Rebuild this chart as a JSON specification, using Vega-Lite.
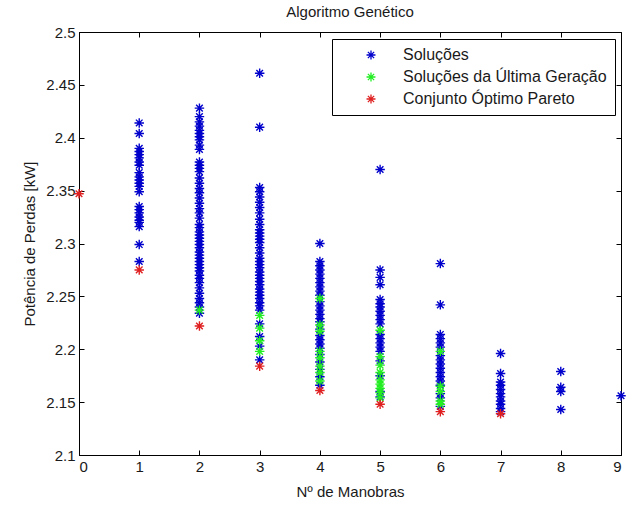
{
  "$schema": "https://vega.github.io/schema/vega-lite/v6.json",
  "width": 542,
  "height": 423,
  "autosize": "none",
  "padding": {"left": 79, "top": 32, "right": 19, "bottom": 51},
  "background": "white",
  "title": {"text": "Algoritmo Genético", "font": "Liberation Sans", "fontSize": 15, "fontWeight": "normal", "color": "#1a1a1a", "offset": 5},
  "config": {
    "view": {"stroke": "black", "strokeWidth": 1},
    "axis": {"grid": false, "domainColor": "black", "tickColor": "black", "tickSize": -5, "labelFont": "Liberation Sans", "labelFontSize": 15, "labelColor": "#1a1a1a", "titleFont": "Liberation Sans", "titleFontSize": 15, "titleFontWeight": "normal", "titleColor": "#1a1a1a"},
    "legend": {"orient": "none", "legendX": 253, "legendY": 7, "strokeColor": "black", "fillColor": "white", "padding": 8, "labelFont": "Liberation Sans", "labelFontSize": 16, "labelColor": "#1a1a1a", "symbolOffset": 23, "labelOffset": 24, "rowPadding": 6, "labelLimit": 400}
  },
  "data": {"values": [
    {"x":1,"y":2.414,"s":"Soluções"},{"x":1,"y":2.404,"s":"Soluções"},{"x":1,"y":2.390,"s":"Soluções"},{"x":1,"y":2.387,"s":"Soluções"},{"x":1,"y":2.384,"s":"Soluções"},{"x":1,"y":2.381,"s":"Soluções"},{"x":1,"y":2.377,"s":"Soluções"},{"x":1,"y":2.374,"s":"Soluções"},{"x":1,"y":2.367,"s":"Soluções"},{"x":1,"y":2.363,"s":"Soluções"},{"x":1,"y":2.360,"s":"Soluções"},{"x":1,"y":2.357,"s":"Soluções"},{"x":1,"y":2.354,"s":"Soluções"},{"x":1,"y":2.349,"s":"Soluções"},{"x":1,"y":2.335,"s":"Soluções"},{"x":1,"y":2.332,"s":"Soluções"},{"x":1,"y":2.329,"s":"Soluções"},{"x":1,"y":2.325,"s":"Soluções"},{"x":1,"y":2.322,"s":"Soluções"},{"x":1,"y":2.320,"s":"Soluções"},{"x":1,"y":2.316,"s":"Soluções"},{"x":1,"y":2.299,"s":"Soluções"},{"x":1,"y":2.283,"s":"Soluções"},
    {"x":2,"y":2.428,"s":"Soluções"},{"x":2,"y":2.420,"s":"Soluções"},{"x":2,"y":2.415,"s":"Soluções"},{"x":2,"y":2.411,"s":"Soluções"},{"x":2,"y":2.407,"s":"Soluções"},{"x":2,"y":2.404,"s":"Soluções"},{"x":2,"y":2.401,"s":"Soluções"},{"x":2,"y":2.398,"s":"Soluções"},{"x":2,"y":2.393,"s":"Soluções"},{"x":2,"y":2.389,"s":"Soluções"},{"x":2,"y":2.377,"s":"Soluções"},{"x":2,"y":2.374,"s":"Soluções"},{"x":2,"y":2.371,"s":"Soluções"},{"x":2,"y":2.368,"s":"Soluções"},{"x":2,"y":2.362,"s":"Soluções"},{"x":2,"y":2.357,"s":"Soluções"},{"x":2,"y":2.352,"s":"Soluções"},{"x":2,"y":2.348,"s":"Soluções"},{"x":2,"y":2.343,"s":"Soluções"},{"x":2,"y":2.338,"s":"Soluções"},{"x":2,"y":2.333,"s":"Soluções"},{"x":2,"y":2.329,"s":"Soluções"},{"x":2,"y":2.324,"s":"Soluções"},{"x":2,"y":2.318,"s":"Soluções"},{"x":2,"y":2.315,"s":"Soluções"},{"x":2,"y":2.311,"s":"Soluções"},{"x":2,"y":2.308,"s":"Soluções"},{"x":2,"y":2.305,"s":"Soluções"},{"x":2,"y":2.302,"s":"Soluções"},{"x":2,"y":2.299,"s":"Soluções"},{"x":2,"y":2.296,"s":"Soluções"},{"x":2,"y":2.292,"s":"Soluções"},{"x":2,"y":2.289,"s":"Soluções"},{"x":2,"y":2.286,"s":"Soluções"},{"x":2,"y":2.283,"s":"Soluções"},{"x":2,"y":2.280,"s":"Soluções"},{"x":2,"y":2.277,"s":"Soluções"},{"x":2,"y":2.274,"s":"Soluções"},{"x":2,"y":2.270,"s":"Soluções"},{"x":2,"y":2.267,"s":"Soluções"},{"x":2,"y":2.263,"s":"Soluções"},{"x":2,"y":2.258,"s":"Soluções"},{"x":2,"y":2.253,"s":"Soluções"},{"x":2,"y":2.248,"s":"Soluções"},{"x":2,"y":2.244,"s":"Soluções"},{"x":2,"y":2.240,"s":"Soluções"},{"x":2,"y":2.234,"s":"Soluções"},
    {"x":3,"y":2.461,"s":"Soluções"},{"x":3,"y":2.410,"s":"Soluções"},{"x":3,"y":2.353,"s":"Soluções"},{"x":3,"y":2.349,"s":"Soluções"},{"x":3,"y":2.344,"s":"Soluções"},{"x":3,"y":2.339,"s":"Soluções"},{"x":3,"y":2.334,"s":"Soluções"},{"x":3,"y":2.329,"s":"Soluções"},{"x":3,"y":2.323,"s":"Soluções"},{"x":3,"y":2.318,"s":"Soluções"},{"x":3,"y":2.313,"s":"Soluções"},{"x":3,"y":2.310,"s":"Soluções"},{"x":3,"y":2.307,"s":"Soluções"},{"x":3,"y":2.304,"s":"Soluções"},{"x":3,"y":2.301,"s":"Soluções"},{"x":3,"y":2.296,"s":"Soluções"},{"x":3,"y":2.291,"s":"Soluções"},{"x":3,"y":2.286,"s":"Soluções"},{"x":3,"y":2.283,"s":"Soluções"},{"x":3,"y":2.280,"s":"Soluções"},{"x":3,"y":2.277,"s":"Soluções"},{"x":3,"y":2.273,"s":"Soluções"},{"x":3,"y":2.270,"s":"Soluções"},{"x":3,"y":2.267,"s":"Soluções"},{"x":3,"y":2.264,"s":"Soluções"},{"x":3,"y":2.261,"s":"Soluções"},{"x":3,"y":2.257,"s":"Soluções"},{"x":3,"y":2.254,"s":"Soluções"},{"x":3,"y":2.251,"s":"Soluções"},{"x":3,"y":2.248,"s":"Soluções"},{"x":3,"y":2.244,"s":"Soluções"},{"x":3,"y":2.241,"s":"Soluções"},{"x":3,"y":2.237,"s":"Soluções"},{"x":3,"y":2.224,"s":"Soluções"},{"x":3,"y":2.212,"s":"Soluções"},{"x":3,"y":2.203,"s":"Soluções"},{"x":3,"y":2.190,"s":"Soluções"},
    {"x":4,"y":2.300,"s":"Soluções"},{"x":4,"y":2.283,"s":"Soluções"},{"x":4,"y":2.279,"s":"Soluções"},{"x":4,"y":2.275,"s":"Soluções"},{"x":4,"y":2.271,"s":"Soluções"},{"x":4,"y":2.267,"s":"Soluções"},{"x":4,"y":2.263,"s":"Soluções"},{"x":4,"y":2.259,"s":"Soluções"},{"x":4,"y":2.255,"s":"Soluções"},{"x":4,"y":2.251,"s":"Soluções"},{"x":4,"y":2.245,"s":"Soluções"},{"x":4,"y":2.241,"s":"Soluções"},{"x":4,"y":2.237,"s":"Soluções"},{"x":4,"y":2.233,"s":"Soluções"},{"x":4,"y":2.229,"s":"Soluções"},{"x":4,"y":2.226,"s":"Soluções"},{"x":4,"y":2.219,"s":"Soluções"},{"x":4,"y":2.213,"s":"Soluções"},{"x":4,"y":2.209,"s":"Soluções"},{"x":4,"y":2.205,"s":"Soluções"},{"x":4,"y":2.201,"s":"Soluções"},{"x":4,"y":2.195,"s":"Soluções"},{"x":4,"y":2.188,"s":"Soluções"},{"x":4,"y":2.181,"s":"Soluções"},{"x":4,"y":2.174,"s":"Soluções"},{"x":4,"y":2.166,"s":"Soluções"},
    {"x":5,"y":2.370,"s":"Soluções"},{"x":5,"y":2.275,"s":"Soluções"},{"x":5,"y":2.268,"s":"Soluções"},{"x":5,"y":2.261,"s":"Soluções"},{"x":5,"y":2.247,"s":"Soluções"},{"x":5,"y":2.243,"s":"Soluções"},{"x":5,"y":2.240,"s":"Soluções"},{"x":5,"y":2.236,"s":"Soluções"},{"x":5,"y":2.232,"s":"Soluções"},{"x":5,"y":2.228,"s":"Soluções"},{"x":5,"y":2.224,"s":"Soluções"},{"x":5,"y":2.214,"s":"Soluções"},{"x":5,"y":2.210,"s":"Soluções"},{"x":5,"y":2.206,"s":"Soluções"},{"x":5,"y":2.202,"s":"Soluções"},{"x":5,"y":2.198,"s":"Soluções"},{"x":5,"y":2.189,"s":"Soluções"},{"x":5,"y":2.175,"s":"Soluções"},{"x":5,"y":2.160,"s":"Soluções"},{"x":5,"y":2.155,"s":"Soluções"},
    {"x":6,"y":2.281,"s":"Soluções"},{"x":6,"y":2.242,"s":"Soluções"},{"x":6,"y":2.214,"s":"Soluções"},{"x":6,"y":2.210,"s":"Soluções"},{"x":6,"y":2.206,"s":"Soluções"},{"x":6,"y":2.202,"s":"Soluções"},{"x":6,"y":2.194,"s":"Soluções"},{"x":6,"y":2.190,"s":"Soluções"},{"x":6,"y":2.186,"s":"Soluções"},{"x":6,"y":2.182,"s":"Soluções"},{"x":6,"y":2.178,"s":"Soluções"},{"x":6,"y":2.174,"s":"Soluções"},{"x":6,"y":2.170,"s":"Soluções"},{"x":6,"y":2.166,"s":"Soluções"},{"x":6,"y":2.158,"s":"Soluções"},{"x":6,"y":2.154,"s":"Soluções"},{"x":6,"y":2.146,"s":"Soluções"},
    {"x":7,"y":2.196,"s":"Soluções"},{"x":7,"y":2.177,"s":"Soluções"},{"x":7,"y":2.169,"s":"Soluções"},{"x":7,"y":2.166,"s":"Soluções"},{"x":7,"y":2.162,"s":"Soluções"},{"x":7,"y":2.158,"s":"Soluções"},{"x":7,"y":2.155,"s":"Soluções"},{"x":7,"y":2.151,"s":"Soluções"},{"x":7,"y":2.148,"s":"Soluções"},{"x":7,"y":2.144,"s":"Soluções"},{"x":7,"y":2.141,"s":"Soluções"},
    {"x":8,"y":2.179,"s":"Soluções"},{"x":8,"y":2.164,"s":"Soluções"},{"x":8,"y":2.160,"s":"Soluções"},{"x":8,"y":2.143,"s":"Soluções"},
    {"x":9,"y":2.156,"s":"Soluções"},
    {"x":2,"y":2.237,"s":"Soluções da Última Geração"},
    {"x":3,"y":2.232,"s":"Soluções da Última Geração"},{"x":3,"y":2.220,"s":"Soluções da Última Geração"},{"x":3,"y":2.208,"s":"Soluções da Última Geração"},{"x":3,"y":2.198,"s":"Soluções da Última Geração"},
    {"x":4,"y":2.248,"s":"Soluções da Última Geração"},{"x":4,"y":2.223,"s":"Soluções da Última Geração"},{"x":4,"y":2.217,"s":"Soluções da Última Geração"},{"x":4,"y":2.198,"s":"Soluções da Última Geração"},{"x":4,"y":2.192,"s":"Soluções da Última Geração"},{"x":4,"y":2.184,"s":"Soluções da Última Geração"},{"x":4,"y":2.178,"s":"Soluções da Última Geração"},{"x":4,"y":2.170,"s":"Soluções da Última Geração"},
    {"x":5,"y":2.218,"s":"Soluções da Última Geração"},{"x":5,"y":2.193,"s":"Soluções da Última Geração"},{"x":5,"y":2.185,"s":"Soluções da Última Geração"},{"x":5,"y":2.178,"s":"Soluções da Última Geração"},{"x":5,"y":2.171,"s":"Soluções da Última Geração"},{"x":5,"y":2.167,"s":"Soluções da Última Geração"},{"x":5,"y":2.163,"s":"Soluções da Última Geração"},{"x":5,"y":2.159,"s":"Soluções da Última Geração"},{"x":5,"y":2.154,"s":"Soluções da Última Geração"},
    {"x":6,"y":2.198,"s":"Soluções da Última Geração"},{"x":6,"y":2.165,"s":"Soluções da Última Geração"},{"x":6,"y":2.160,"s":"Soluções da Última Geração"},{"x":6,"y":2.151,"s":"Soluções da Última Geração"},{"x":6,"y":2.148,"s":"Soluções da Última Geração"},
    {"x":0,"y":2.347,"s":"Conjunto Óptimo Pareto"},{"x":1,"y":2.275,"s":"Conjunto Óptimo Pareto"},{"x":2,"y":2.222,"s":"Conjunto Óptimo Pareto"},{"x":3,"y":2.184,"s":"Conjunto Óptimo Pareto"},{"x":4,"y":2.161,"s":"Conjunto Óptimo Pareto"},{"x":5,"y":2.148,"s":"Conjunto Óptimo Pareto"},{"x":6,"y":2.141,"s":"Conjunto Óptimo Pareto"},{"x":7,"y":2.139,"s":"Conjunto Óptimo Pareto"}
  ]},
  "resolve": {"axis": {"x": "independent", "y": "independent"}},
  "layer": [
    {
      "mark": {"type": "point", "filled": false, "strokeWidth": 1.4, "size": 90, "opacity": 1, "shape": "M-1,0H1M0,-1V1M-0.7,-0.7L0.7,0.7M-0.7,0.7L0.7,-0.7"},
      "encoding": {
        "x": {"field": "x", "type": "quantitative", "scale": {"domain": [0, 9], "nice": false, "zero": false}, "axis": {"values": [0,1,2,3,4,5,6,7,8,9], "format": "d", "title": "Nº de Manobras", "labelPadding": 9, "titlePadding": 10}},
        "y": {"field": "y", "type": "quantitative", "scale": {"domain": [2.1, 2.5], "nice": false, "zero": false}, "axis": {"values": [2.1,2.15,2.2,2.25,2.3,2.35,2.4,2.45,2.5], "format": ".2~f", "title": "Potência de Perdas [kW]", "labelPadding": 9, "titlePadding": 8}},
        "color": {"field": "s", "type": "nominal", "scale": {"domain": ["Soluções", "Soluções da Última Geração", "Conjunto Óptimo Pareto"], "range": ["#0000cc", "#22ee22", "#e02020"]}, "legend": {"title": null, "symbolType": "M-1,0H1M0,-1V1M-0.7,-0.7L0.7,0.7M-0.7,0.7L0.7,-0.7", "symbolSize": 80, "symbolStrokeWidth": 1.3}}
      }
    },
    {
      "mark": {"type": "point", "opacity": 0},
      "encoding": {
        "x": {"field": "x", "type": "quantitative", "axis": {"orient": "top", "values": [0,1,2,3,4,5,6,7,8,9], "labels": false, "title": null, "domain": false}},
        "y": {"field": "y", "type": "quantitative", "axis": {"orient": "right", "values": [2.1,2.15,2.2,2.25,2.3,2.35,2.4,2.45,2.5], "labels": false, "title": null, "domain": false}}
      }
    }
  ]
}
